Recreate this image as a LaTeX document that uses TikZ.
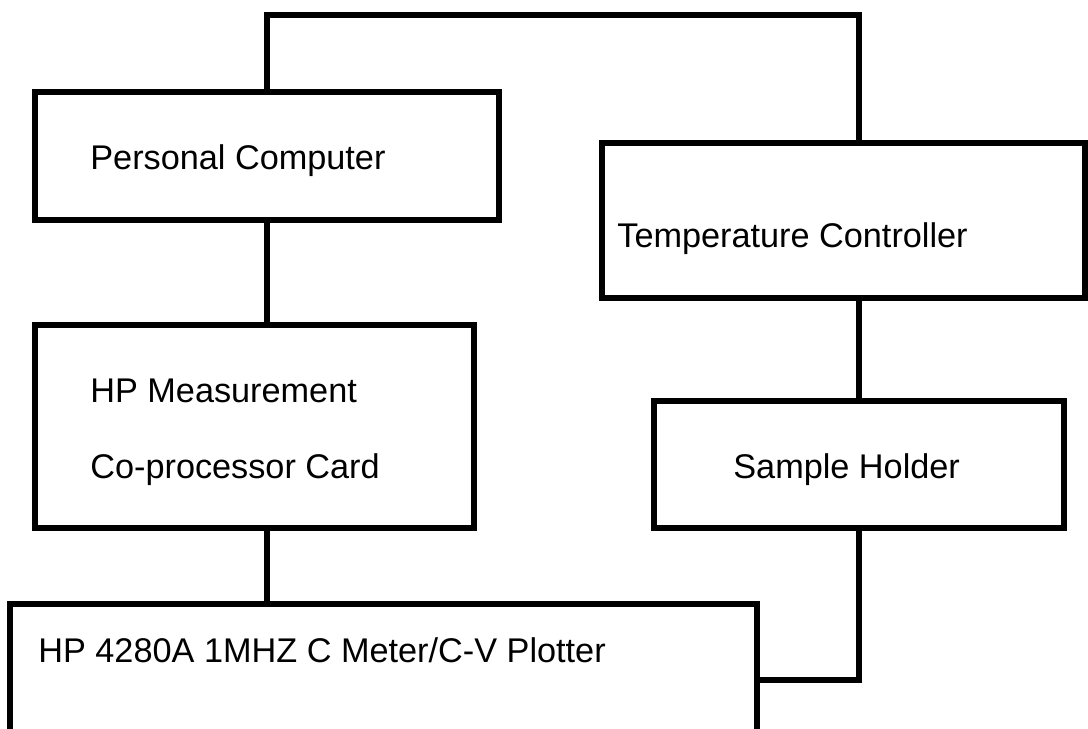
\documentclass[tikz,border=0pt]{standalone}
\usepackage{fontspec}
\setmainfont{Liberation Sans}
\usetikzlibrary{positioning,calc}
\tikzset{
  unit/.style={rectangle,draw,line width=3pt,inner sep=0pt},
  lbl/.style ={anchor=base west,inner sep=0pt,font=\fontsize{19.5}{24}\selectfont},
  wire/.style={line width=3pt},
}

\begin{document}
\begin{tikzpicture}[x=0.02cm,y=-0.02cm]
  \useasboundingbox (0,0) rectangle (1088,729);
  \clip (0,0) rectangle (1088,729);

  % ---- LEFT column ----
  \node[unit,minimum width=9.28cm,minimum height=2.56cm] (pc) at (267,156) {};
  \node[lbl] (pcl) at (90,170) {Personal Computer};
  \node[unit,minimum width=8.78cm,minimum height=4.06cm] (meas) at (254.5,426.5) {};
  \node[lbl] (measa) at (90,402) {HP Measurement};
  \node[lbl] (measb) at (90,478) {Co-processor Card};

  % ---- RIGHT column ----
  \node[unit,minimum width=9.66cm,minimum height=3.10cm] (tc) at (843.5,220.5) {};
  \node[lbl] (tcl) at (617,248) {Temperature Controller};
  \node[unit,minimum width=8.2cm,minimum height=2.54cm] (sh) at (859,464.5) {};
  \node[lbl] (shl) at (733,478) {Sample Holder};

  % ---- meter (runs off the bottom) ----
  \node[unit,minimum width=14.94cm,minimum height=3.04cm] (hp) at (383.5,680) {};
  \node[lbl] (hpl) at (38,662) {HP 4280A 1MHZ C Meter/C-V Plotter};

  % connectors
  \coordinate (bend) at (859,15);
  \draw[wire] (pc.north) |- (bend) -- (bend |- tc.north);
  \draw[wire] (pc.south) -- (pc.south |- meas.north);
  \draw[wire] (pc.south |- meas.south) -- (pc.south |- hp.north);
  \draw[wire] (sh.north |- tc.south) -- (sh.north);
  \draw[wire] (sh.south) |- (hp.east);
\end{tikzpicture}
\end{document}
